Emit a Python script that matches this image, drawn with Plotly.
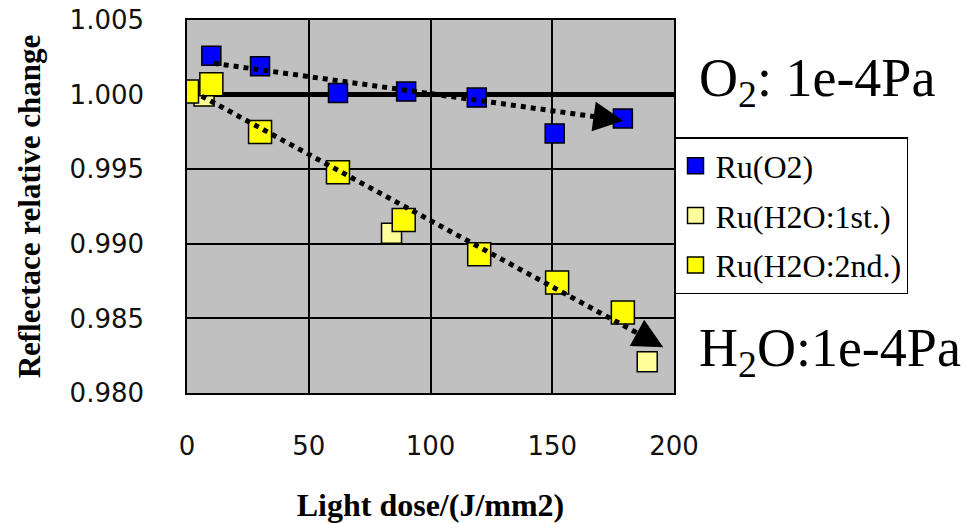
import plotly.graph_objects as go

# ---- data ----
dose_o2 = [10, 30, 62, 90, 119, 151, 179]
refl_o2 = [1.0026, 1.0019, 1.0001, 1.0002, 0.9998, 0.9974, 0.9984]

dose_h2o_1st = [7, 84, 189]
refl_h2o_1st = [0.9999, 0.9907, 0.9821]

dose_h2o_2nd = [0, 10, 30, 62, 89, 120, 152, 179]
refl_h2o_2nd = [1.0002, 1.0007, 0.9975, 0.9948, 0.9916, 0.9893, 0.9874, 0.9854]

ref_dose = [0, 200]
ref_refl = [1.0, 1.0]

# dotted trend arrows: line start/end, arrow tail and arrow tip
trend_o2_dose = [11, 173.1]
trend_o2_refl = [1.0021, 0.99839]
arrow_o2_tail = (166.2, 0.99855)
arrow_o2_tip = (179.2, 0.99825)

trend_h2o_dose = [6, 190.2]
trend_h2o_refl = [0.9999, 0.98355]
arrow_h2o_tail = (184.1, 0.98409)
arrow_h2o_tip = (195.6, 0.98306)

x_ticks = [0, 50, 100, 150, 200]
y_ticks = [0.980, 0.985, 0.990, 0.995, 1.000, 1.005]
y_tick_labels = ["0.980", "0.985", "0.990", "0.995", "1.000", "1.005"]

series_names = ["Ru(O2)", "Ru(H2O:1st.)", "Ru(H2O:2nd.)"]
series_colors = ["#0000FF", "#FFFF99", "#FFFF00"]

SERIF = "Liberation Serif, Times New Roman, serif"
SANS = "DejaVu Sans, Verdana, sans-serif"

fig = go.Figure()

# reference line at 1.000
fig.add_trace(go.Scatter(x=ref_dose, y=ref_refl, mode="lines",
                         line=dict(color="black", width=5),
                         showlegend=False, hoverinfo="skip"))

fig.add_trace(go.Scatter(x=dose_o2, y=refl_o2, mode="markers", name=series_names[0],
                         legendgroup="a",
                         marker=dict(symbol="square", size=19, color=series_colors[0],
                                     line=dict(color="black", width=1.5))))
fig.add_trace(go.Scatter(x=dose_h2o_1st, y=refl_h2o_1st, mode="markers", name=series_names[1],
                         legendgroup="b",
                         marker=dict(symbol="square", size=20, color=series_colors[1],
                                     line=dict(color="black", width=1.5))))
fig.add_trace(go.Scatter(x=dose_h2o_2nd, y=refl_h2o_2nd, mode="markers", name=series_names[2],
                         legendgroup="c",
                         marker=dict(symbol="square", size=23, color=series_colors[2],
                                     line=dict(color="black", width=1.5))))

# dotted trend lines
for tx, ty in [(trend_o2_dose, trend_o2_refl), (trend_h2o_dose, trend_h2o_refl)]:
    fig.add_trace(go.Scatter(x=tx, y=ty, mode="lines",
                             line=dict(color="black", width=5, dash="dot"),
                             showlegend=False, hoverinfo="skip"))

annotations = []
for tail, tip in [(arrow_o2_tail, arrow_o2_tip), (arrow_h2o_tail, arrow_h2o_tip)]:
    annotations.append(dict(x=tip[0], y=tip[1], ax=tail[0], ay=tail[1],
                            xref="x", yref="y", axref="x", ayref="y",
                            text="", showarrow=True, arrowhead=2, arrowsize=3,
                            arrowwidth=2, arrowcolor="black", standoff=0))

annotations += [
    dict(text="O<sub>2</sub>: 1e-4Pa", xref="paper", yref="paper", x=1.047, y=0.836,
         xanchor="left", yanchor="middle", showarrow=False,
         font=dict(family=SERIF, size=54, color="black")),
    dict(text="H<sub>2</sub>O:1e-4Pa", xref="paper", yref="paper", x=1.047, y=0.110,
         xanchor="left", yanchor="middle", showarrow=False,
         font=dict(family=SERIF, size=54, color="black")),
]

fig.update_layout(
    width=976, height=523,
    margin=dict(l=187, r=302, t=20, b=130, autoexpand=False),
    paper_bgcolor="white",
    plot_bgcolor="#C0C0C0",
    showlegend=True,
    legend=dict(x=1.0, xanchor="left", y=0.6863, yanchor="top",
                bgcolor="white", bordercolor="black", borderwidth=1.5,
                font=dict(family=SERIF, size=32, color="black"),
                traceorder="grouped", tracegroupgap=5),
    xaxis=dict(range=[0, 200], tickvals=x_ticks, showgrid=True, gridcolor="black", gridwidth=1.5,
               showline=True, linecolor="black", linewidth=1.5, mirror=True, zeroline=False,
               ticks="", ticklabelstandoff=29, automargin=False,
               tickfont=dict(family=SANS, size=26, color="#111111"),
               title=dict(text="Light dose/(J/mm2)", standoff=38,
                          font=dict(family=SERIF, size=32, color="black", weight="bold"))),
    yaxis=dict(range=[0.980, 1.005], tickvals=y_ticks, ticktext=y_tick_labels,
               showgrid=True, gridcolor="black", gridwidth=1.5,
               showline=True, linecolor="black", linewidth=1.5, mirror=True, zeroline=False,
               ticks="", ticklabelstandoff=36, automargin=False,
               tickfont=dict(family=SANS, size=26, color="#111111"),
               title=dict(text="Reflectace relative change", standoff=20,
                          font=dict(family=SERIF, size=31, color="black", weight="bold"))),
    annotations=annotations,
)

fig.write_html("out.html")
